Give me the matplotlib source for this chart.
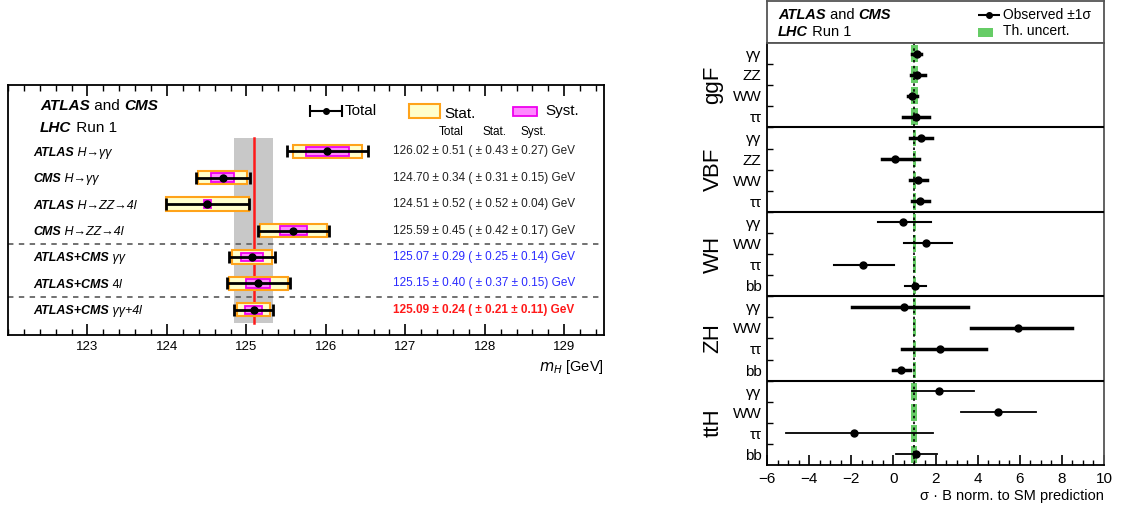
import numpy as np
import matplotlib
matplotlib.use("Agg")
import matplotlib.pyplot as plt
from matplotlib.patches import Rectangle

plt.rcParams['font.family'] = ['Liberation Sans', 'DejaVu Sans']

# ---- left panel: Higgs mass measurements ----
mass_labels = [
    [("ATLAS", "bi"), (" H\u2192\u03b3\u03b3", "i")],
    [("CMS", "bi"), (" H\u2192\u03b3\u03b3", "i")],
    [("ATLAS", "bi"), (" H\u2192ZZ\u21924l", "i")],
    [("CMS", "bi"), (" H\u2192ZZ\u21924l", "i")],
    [("ATLAS+CMS", "bi"), (" \u03b3\u03b3", "i")],
    [("ATLAS+CMS", "bi"), (" 4", "n"), ("l", "i")],
    [("ATLAS+CMS", "bi"), (" \u03b3\u03b3+4", "i"), ("l", "i")],
]
mass_val = [126.02, 124.70, 124.51, 125.59, 125.07, 125.15, 125.09]
mass_tot = [0.51, 0.34, 0.52, 0.45, 0.29, 0.40, 0.24]
mass_stat = [0.43, 0.31, 0.52, 0.42, 0.25, 0.37, 0.21]
mass_syst = [0.27, 0.15, 0.04, 0.17, 0.14, 0.15, 0.11]
text_colors = ['#222222'] * 4 + ['#2a2aff', '#2a2aff', '#ff1a1a']

# ---- right panel: signal strengths ----
groups = ['ggF', 'VBF', 'WH', 'ZH', 'ttH']
channels = [
    ['\u03b3\u03b3', 'ZZ', 'WW', '\u03c4\u03c4'],
    ['\u03b3\u03b3', 'ZZ', 'WW', '\u03c4\u03c4'],
    ['\u03b3\u03b3', 'WW', '\u03c4\u03c4', 'bb'],
    ['\u03b3\u03b3', 'WW', '\u03c4\u03c4', 'bb'],
    ['\u03b3\u03b3', 'WW', '\u03c4\u03c4', 'bb'],
]
mu = [
    [1.10, 1.13, 0.87, 1.06],
    [1.29, 0.09, 1.17, 1.26],
    [0.47, 1.56, -1.43, 1.04],
    [0.52, 5.90, 2.23, 0.36],
    [2.18, 4.97, -1.86, 1.07],
]
mu_lo = [
    [0.87, 0.84, 0.69, 0.47],
    [0.80, -0.54, 0.79, 0.90],
    [-0.72, 0.52, -2.80, 0.55],
    [-1.98, 3.67, 0.42, 0.00],
    [0.90, 3.21, -5.12, 0.11],
]
mu_hi = [
    [1.33, 1.52, 1.10, 1.67],
    [1.85, 1.20, 1.61, 1.69],
    [1.80, 2.77, 0.03, 1.56],
    [3.56, 8.50, 4.41, 0.79],
    [3.84, 6.75, 1.90, 2.05],
]
th_unc = [0.15, 0.08, 0.08, 0.08, 0.14]
line_w = [2.5, 2.5, 1.5, 2.5, 1.3]

fig = plt.figure(figsize=(11.21, 5.09), dpi=100)
W, H = 1121.0, 509.0


def px_axes(x0, y0, x1, y1):
    return fig.add_axes([x0 / W, 1 - y1 / H, (x1 - x0) / W, (y1 - y0) / H])


renderer = fig.canvas.get_renderer()
styles = {"bi": dict(fontweight='bold', fontstyle='italic'),
          "i": dict(fontstyle='italic'),
          "n": dict()}


def chain(ax, x, y, parts, transform, **kw):
    # write text pieces with different styles one after another
    for s, st in parts:
        t = ax.text(x, y, s, transform=transform, va='baseline', ha='left',
                    **kw, **styles[st])
        bb = t.get_window_extent(renderer)
        x = transform.inverted().transform((bb.x1, bb.y0))[0]


# ================= left panel =================
ax = px_axes(8, 85, 604, 335)
n = len(mass_val)
ypos = np.arange(n)[::-1]
ax.set_xlim(122, 129.5)
ax.set_ylim(-0.95, 8.5)

comb = mass_val[-1]
ax.add_patch(Rectangle((comb - mass_tot[-1], -0.5), 2 * mass_tot[-1], 7,
                       facecolor='#c8c8c8', edgecolor='none', zorder=0))
ax.plot([comb, comb], [-0.5, 6.5], color='#ff1a1a', lw=1.8, zorder=1)
for yd in [0.5, 2.5]:
    ax.axhline(yd, color='#666666', lw=1.3, ls=(0, (3, 3)), zorder=1)

for i in range(n):
    y = ypos[i]
    ax.add_patch(Rectangle((mass_val[i] - mass_stat[i], y - 0.25), 2 * mass_stat[i], 0.5,
                           facecolor='#ffffcc', edgecolor='#ffa31a', lw=1.5, zorder=2))
    ax.add_patch(Rectangle((mass_val[i] - mass_syst[i], y - 0.165), 2 * mass_syst[i], 0.33,
                           facecolor='#ff88ff', edgecolor='#ee00ee', lw=1.3, zorder=3))
    ax.errorbar(mass_val[i], y, xerr=mass_tot[i], fmt='o', color='black', ms=5,
                elinewidth=2, capsize=4.5, capthick=2, zorder=4)
    chain(ax, 0.042, y - 0.17, mass_labels[i], ax.get_yaxis_transform(), fontsize=9)
    num = f"{mass_val[i]:.2f} \u00b1 {mass_tot[i]:.2f} ( \u00b1 {mass_stat[i]:.2f} \u00b1 {mass_syst[i]:.2f}) GeV"
    ax.text(0.646, y, num, transform=ax.get_yaxis_transform(), va='center', ha='left',
            fontsize=8.5, color=text_colors[i], fontweight='bold' if i == n - 1 else 'normal')

chain(ax, 0.054, 0.90, [("ATLAS", "bi"), (" and ", "n"), ("CMS", "bi")], ax.transAxes, fontsize=11)
chain(ax, 0.054, 0.812, [("LHC", "bi"), (" Run 1", "n")], ax.transAxes, fontsize=11)

# legend
ax.errorbar(0.533, 0.896, xerr=0.027, fmt='o', color='black', ms=4, elinewidth=1.5,
            capsize=4, capthick=1.5, transform=ax.transAxes)
ax.text(0.565, 0.896, "Total", transform=ax.transAxes, va='center', fontsize=11)
ax.add_patch(Rectangle((0.673, 0.868), 0.052, 0.056, transform=ax.transAxes,
                       facecolor='#ffffcc', edgecolor='#ffa31a', lw=1.5))
ax.text(0.732, 0.885, "Stat.", transform=ax.transAxes, va='center', fontsize=11)
ax.add_patch(Rectangle((0.847, 0.876), 0.041, 0.036, transform=ax.transAxes,
                       facecolor='#ff88ff', edgecolor='#ee00ee', lw=1.3))
ax.text(0.901, 0.896, "Syst.", transform=ax.transAxes, va='center', fontsize=11)
for xh, s in zip([0.743, 0.817, 0.881], ["Total", "Stat.", "Syst."]):
    ax.text(xh, 0.812, s, transform=ax.transAxes, ha='center', va='center', fontsize=8.5)

ax.set_yticks([])
ax.set_xticks(np.arange(123, 130))
ax.set_xticks(np.arange(122, 129.51, 0.2), minor=True)
ax.tick_params(axis='x', which='major', direction='in', length=8, width=1.2,
               top=True, labelsize=9.5, pad=4)
ax.tick_params(axis='x', which='minor', direction='in', length=4, width=1, top=True)
for sp in ax.spines.values():
    sp.set_linewidth(1.3)
ax.set_xlabel(r"$m_H$ [GeV]", fontsize=10.5, loc='right', labelpad=4)

# ================= right panel =================
hdr = px_axes(767, 1, 1104, 43)
hdr.set_xticks([])
hdr.set_yticks([])
for sp in hdr.spines.values():
    sp.set_color('#555555')
    sp.set_linewidth(1.3)
chain(hdr, 0.033, 0.56, [("ATLAS", "bi"), (" and ", "n"), ("CMS", "bi")], hdr.transAxes, fontsize=10.5)
chain(hdr, 0.033, 0.17, [("LHC", "bi"), (" Run 1", "n")], hdr.transAxes, fontsize=10.5)
hdr.errorbar(0.658, 0.667, xerr=0.033, fmt='o', color='black', ms=4, elinewidth=1.5,
             transform=hdr.transAxes)
hdr.text(0.70, 0.667, "Observed \u00b11\u03c3", transform=hdr.transAxes, va='center', fontsize=10)
hdr.add_patch(Rectangle((0.626, 0.14), 0.045, 0.22, transform=hdr.transAxes,
                        facecolor='#66cc66', edgecolor='none'))
hdr.text(0.70, 0.29, "Th. uncert.", transform=hdr.transAxes, va='center', fontsize=10)

axr = px_axes(767, 43, 1104, 465)
nrow = sum(len(c) for c in channels)
axr.set_xlim(-6, 10)
axr.set_ylim(nrow, 0)

row = 0
yt, yl = [], []
for g in range(len(groups)):
    for k in range(len(channels[g])):
        yc = row + 0.5
        axr.add_patch(Rectangle((1 - th_unc[g], row + 0.1), 2 * th_unc[g], 0.8,
                                facecolor='#66cc66', edgecolor='none', zorder=1))
        axr.plot([mu_lo[g][k], mu_hi[g][k]], [yc, yc], color='black', lw=line_w[g], zorder=3)
        axr.plot(mu[g][k], yc, 'o', color='black', ms=5, zorder=4)
        yt.append(yc)
        yl.append(channels[g][k])
        row += 1
    if g < len(groups) - 1:
        axr.axhline(row, color='black', lw=1.5, zorder=5)
    gc = row - len(channels[g]) / 2
    axr.text(-0.16, gc, groups[g], transform=axr.get_yaxis_transform(), rotation=90,
             ha='center', va='center', fontsize=16)
axr.axvline(1, color='black', lw=1.2, ls=(0, (1.5, 2)), zorder=2)

axr.set_yticks(yt)
axr.set_yticklabels(yl, fontsize=11)
axr.set_yticks(np.arange(1, nrow), minor=True)
axr.tick_params(axis='y', which='major', length=0, pad=4)
axr.tick_params(axis='y', which='minor', direction='in', length=4, width=1)
axr.set_xticks(np.arange(-6, 10.1, 2))
axr.set_xticks(np.arange(-6, 10.01, 0.5), minor=True)
axr.tick_params(axis='x', which='major', direction='in', length=7, width=1.2, labelsize=11, pad=5)
axr.tick_params(axis='x', which='minor', direction='in', length=3.5, width=1)
axr.set_xticklabels([f"{v:g}".replace('-', '\u2212') for v in np.arange(-6, 10.1, 2)])
for sp in axr.spines.values():
    sp.set_color('#555555')
    sp.set_linewidth(1.3)
axr.spines['bottom'].set_color('black')
axr.spines['left'].set_color('black')
axr.set_xlabel("\u03c3 \u00b7 B norm. to SM prediction", fontsize=10.5, loc='right', labelpad=2)

fig.savefig("out.png", dpi=100)
